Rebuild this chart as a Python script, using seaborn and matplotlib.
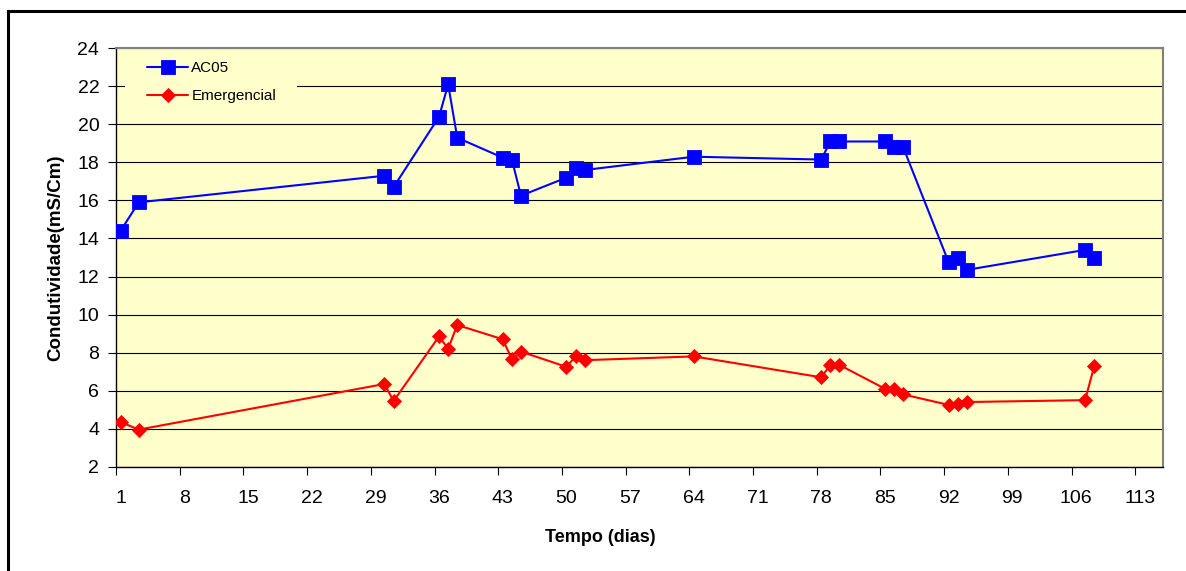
import matplotlib
matplotlib.use("Agg")
import matplotlib.pyplot as plt
from matplotlib.patches import Rectangle
from matplotlib.ticker import FixedLocator, NullFormatter
import seaborn as sns
import pandas as pd

# Sampling days (category positions on the time axis)
dias = [1, 3, 30, 31, 36, 37, 38, 43, 44, 45, 50, 51, 52, 64, 78, 79, 80,
        85, 86, 87, 92, 93, 94, 107, 108]

# Conductivity, mS/cm
ac05 = [14.4, 15.9, 17.3, 16.7, 20.4, 22.1, 19.3, 18.25, 18.15, 16.25, 17.2,
        17.7, 17.6, 18.3, 18.15, 19.1, 19.1, 19.1, 18.8, 18.8, 12.75, 12.95,
        12.35, 13.4, 13.0]
emergencial = [4.35, 3.95, 6.35, 5.45, 8.85, 8.2, 9.45, 8.7, 7.65, 8.05, 7.25,
               7.8, 7.6, 7.8, 6.7, 7.35, 7.35, 6.1, 6.1, 5.8, 5.25, 5.3, 5.4,
               5.5, 7.3]

x_labels = list(range(1, 114, 7))
y_ticks = list(range(2, 25, 2))
n_categories = 115

sns.set_style("white")
plt.rcParams["font.family"] = ["Liberation Sans", "DejaVu Sans"]
plt.rcParams.update({"text.color": "black", "axes.labelcolor": "black",
                     "xtick.color": "black", "ytick.color": "black"})

W, H, DPI = 1186, 571, 100
fig = plt.figure(figsize=(W / DPI, H / DPI), dpi=DPI)
fig.patch.set_facecolor("white")

L, R, T, B = 116, 1162.5, 48.3, 466.7
ax = fig.add_axes([L / W, 1 - B / H, (R - L) / W, (B - T) / H])
ax.set_facecolor("#FFFFCC")

df = pd.DataFrame({"dia": dias, "AC05": ac05, "Emergencial": emergencial})

sns.lineplot(data=df, x="dia", y="AC05", ax=ax, color="#0000FF", lw=1.5,
             marker="s", markersize=9.5, markeredgewidth=0.6,
             markeredgecolor="#0000FF", label="AC05", zorder=3)
sns.lineplot(data=df, x="dia", y="Emergencial", ax=ax, color="#FF0000", lw=1.5,
             marker="D", markersize=7.4, markeredgewidth=0.6,
             markeredgecolor="#FF0000", label="Emergencial", zorder=3)

ax.set_xlim(0.5, n_categories + 0.5)
ax.set_ylim(2, 24)

# horizontal grid
ax.set_axisbelow(True)
ax.yaxis.grid(True, color="black", lw=0.8)
ax.xaxis.grid(False)

# y ticks
ax.set_yticks(y_ticks)
ax.tick_params(axis="y", which="major", direction="out", length=6, width=0.8,
               color="black", labelsize=14, pad=6, left=True)

# x: labels at category centres, tick marks on category boundaries
ax.set_xticks(x_labels)
ax.set_xticklabels([str(v) for v in x_labels])
ax.xaxis.set_minor_locator(FixedLocator([v - 0.5 for v in x_labels]))
ax.xaxis.set_minor_formatter(NullFormatter())
ax.tick_params(axis="x", which="major", length=0, labelsize=14, pad=17)
ax.tick_params(axis="x", which="minor", direction="out", length=6, width=0.8,
               color="black", bottom=True)

for side in ("left", "bottom"):
    ax.spines[side].set_color("black")
    ax.spines[side].set_linewidth(1.0)
for side in ("top", "right"):
    ax.spines[side].set_color("#808080")
    ax.spines[side].set_linewidth(1.5)

ax.set_xlabel("Tempo (dias)", fontsize=13, fontweight="bold")
ax.set_ylabel("Condutividade(mS/Cm)", fontsize=13.5, fontweight="bold")
ax.xaxis.set_label_coords((600 - L) / (R - L), -(529 - B) / (B - T))
ax.yaxis.set_label_coords(-0.049, 0.5)

# legend area hides the gridline behind it
ax.add_patch(Rectangle((0.0086, 0.862), 0.1645, 0.122, transform=ax.transAxes,
                       facecolor="#FFFFCC", edgecolor="none", zorder=1))
leg = ax.legend(loc="upper left", bbox_to_anchor=(0.0296, 0.97), frameon=False,
                fontsize=11, borderpad=0, borderaxespad=0, handlelength=2.7,
                handletextpad=0.2, labelspacing=0.92)

# chart outer border
fig.patches.append(Rectangle((8 / W, -0.2), 1.5, 1 - 11 / H + 0.2,
                             transform=fig.transFigure, fill=False,
                             edgecolor="black", lw=2.2))

fig.savefig("out.png", dpi=DPI)
